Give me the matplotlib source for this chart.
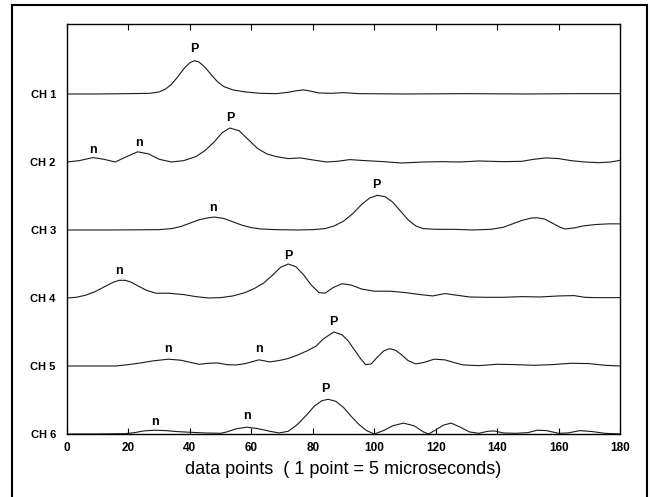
import matplotlib
matplotlib.use("Agg")
import matplotlib.pyplot as plt
from matplotlib.patches import Rectangle

plt.rcParams['font.family'] = ['Liberation Sans', 'DejaVu Sans']

# Channel traces (x in data points, y = amplitude above each channel baseline)
ch1_x = [0, 10, 20, 27, 30, 32, 34, 36, 38, 40, 41.5, 43, 45, 47, 49, 51, 54, 58, 63, 68, 72, 75, 77, 79, 82, 86, 90, 95, 110, 130, 150, 165, 180]
ch1_y = [0, 0, 0.005, 0.01, 0.03, 0.07, 0.14, 0.25, 0.37, 0.46, 0.49, 0.47, 0.39, 0.28, 0.18, 0.11, 0.06, 0.03, 0.01, 0.005, 0.025, 0.05, 0.06, 0.045, 0.015, 0.01, 0.02, 0.005, 0, 0.005, 0, 0.005, 0.005]

ch2_x = [0, 4, 8.5, 12, 15.7, 19, 23, 26.5, 30, 34, 38, 42, 45, 48, 50.5, 53, 56, 59, 62, 65, 68, 72, 76, 80, 84.5, 88, 92, 97, 103, 109, 116, 122, 128, 134, 142, 148, 152, 156, 160, 164, 168.5, 173, 177, 180]
ch2_y = [0, 0.02, 0.065, 0.04, 0.0, 0.07, 0.15, 0.12, 0.04, 0.0, 0.02, 0.08, 0.17, 0.3, 0.43, 0.5, 0.46, 0.33, 0.2, 0.12, 0.08, 0.05, 0.06, 0.03, 0.0, 0.01, 0.035, 0.02, 0.005, -0.015, 0.0, 0.005, 0.0, 0.015, 0.005, 0.01, 0.04, 0.06, 0.05, 0.02, 0.0, -0.01, 0.0, 0.025]

ch3_x = [0, 15, 30, 34, 37, 40, 43, 46, 48, 51, 54, 57, 60, 63, 68, 75, 80, 84, 87, 90, 93, 96, 98.5, 101, 103.5, 106, 108.5, 111, 113.5, 116, 120, 126, 132, 138, 142, 145, 148, 151, 153, 155.5, 158, 160.5, 162, 165, 168, 172, 176, 180]
ch3_y = [0, 0, 0.005, 0.02, 0.05, 0.1, 0.15, 0.18, 0.19, 0.17, 0.12, 0.07, 0.035, 0.015, 0.005, 0, 0.005, 0.02, 0.06, 0.13, 0.24, 0.38, 0.47, 0.51, 0.49, 0.41, 0.28, 0.15, 0.06, 0.02, 0.01, 0.01, 0.0, 0.01, 0.04, 0.09, 0.14, 0.175, 0.18, 0.16, 0.1, 0.04, 0.015, 0.03, 0.06, 0.08, 0.09, 0.09]

ch4_x = [0, 3, 6, 9, 12, 15, 17, 19, 21, 23, 26, 29, 33, 38, 42, 46, 50, 54, 58, 61, 64, 67, 69.5, 72, 74.5, 77, 79.5, 82, 84, 86.5, 89.5, 92.5, 96, 100, 105, 110, 115, 119, 123, 127, 131, 136, 142, 148, 154, 160, 165, 168.5, 172, 176, 180]
ch4_y = [0, 0.01, 0.04, 0.09, 0.16, 0.23, 0.26, 0.26, 0.23, 0.18, 0.11, 0.07, 0.07, 0.05, 0.02, 0.0, 0.005, 0.03, 0.08, 0.14, 0.22, 0.34, 0.45, 0.5, 0.46, 0.34, 0.19, 0.08, 0.07, 0.15, 0.21, 0.19, 0.13, 0.1, 0.1, 0.08, 0.05, 0.03, 0.065, 0.04, 0.015, 0.01, 0.01, 0.02, 0.015, 0.03, 0.035, 0.01, 0.005, 0.005, 0.005]

ch5_x = [0, 10, 16, 20, 24, 28, 33, 37, 40, 43, 46, 49, 52, 55, 58, 62.5, 66, 69, 72, 75, 78, 81, 83.5, 86.8, 89.5, 91.5, 93.5, 95.5, 97.2, 99, 101, 103, 105, 107, 109, 111, 113.5, 116, 119.5, 123, 126, 129, 134, 140, 146, 152, 158, 164, 170, 175, 180]
ch5_y = [0, 0, 0.0, 0.02, 0.045, 0.075, 0.1, 0.085, 0.055, 0.025, 0.04, 0.045, 0.02, 0.015, 0.035, 0.09, 0.06, 0.08, 0.11, 0.16, 0.22, 0.29, 0.4, 0.5, 0.46, 0.37, 0.24, 0.11, 0.02, 0.03, 0.13, 0.22, 0.255, 0.23, 0.16, 0.08, 0.03, 0.05, 0.1, 0.09, 0.05, 0.015, 0.005, 0.025, 0.02, 0.01, 0.02, 0.04, 0.035, 0.01, 0.0]

ch6_x = [0, 10, 19, 22, 25, 28.5, 32, 36, 40, 45, 50, 52, 55, 58.5, 62, 66, 69, 72, 75, 78, 80.5, 83, 85, 87.5, 90, 92.5, 95, 97.5, 100, 103, 106, 109.5, 113, 116, 117.7, 120, 122.5, 125, 128, 131, 134, 137, 139, 142, 146, 150, 153, 156, 160, 163, 167, 171, 175, 180]
ch6_y = [0, 0, 0.005, 0.02, 0.045, 0.055, 0.05, 0.035, 0.025, 0.015, 0.01, 0.03, 0.075, 0.1, 0.08, 0.04, 0.015, 0.04, 0.14, 0.28, 0.41, 0.49, 0.51, 0.48, 0.39, 0.26, 0.14, 0.05, 0.0, 0.05, 0.12, 0.16, 0.12, 0.03, 0.0, 0.06, 0.13, 0.16, 0.1, 0.03, 0.01, 0.04, 0.045, 0.015, 0.01, 0.02, 0.055, 0.05, 0.01, 0.015, 0.05, 0.035, 0.01, 0.0]

channel_names = ['CH 1', 'CH 2', 'CH 3', 'CH 4', 'CH 5', 'CH 6']
traces = [(ch1_x, ch1_y), (ch2_x, ch2_y), (ch3_x, ch3_y),
          (ch4_x, ch4_y), (ch5_x, ch5_y), (ch6_x, ch6_y)]

# peak markers: (channel index, x, height above baseline, text)
marks = [
    (0, 41.5, 0.66, 'P'),
    (1, 8.5, 0.18, 'n'), (1, 23.5, 0.28, 'n'), (1, 53, 0.65, 'P'),
    (2, 47.5, 0.32, 'n'), (2, 100.8, 0.66, 'P'),
    (3, 16.8, 0.40, 'n'), (3, 72, 0.62, 'P'),
    (4, 33, 0.25, 'n'), (4, 62.5, 0.25, 'n'), (4, 86.8, 0.65, 'P'),
    (5, 28.5, 0.18, 'n'), (5, 58.5, 0.26, 'n'), (5, 84, 0.66, 'P'),
]

xticks = [0, 20, 40, 60, 80, 100, 120, 140, 160, 180]

fig = plt.figure(figsize=(6.5, 4.97), dpi=100)
ax = fig.add_axes([0.103, 0.1268, 0.851, 0.825])

n = len(traces)
for i, (xs, ys) in enumerate(traces):
    base = n - 1 - i
    ax.plot(xs, [base + v for v in ys], color='#1a1a1a', lw=0.8)

for ci, x, h, t in marks:
    ax.text(x, n - 1 - ci + h, t, ha='center', va='center',
            fontsize=9, fontweight='bold')

ax.set_xlim(0, 180)
ax.set_ylim(0, 6.03)
ax.set_xticks(xticks)
ax.set_xticklabels([str(v) for v in xticks], fontsize=8.5, fontweight='bold')
ax.set_yticks(list(range(n - 1, -1, -1)))
ax.set_yticklabels(channel_names, fontsize=8, fontweight='bold')
ax.tick_params(axis='x', direction='in', length=4, top=True, pad=6)
ax.tick_params(axis='y', length=0, pad=8)
for s in ax.spines.values():
    s.set_linewidth(1.0)
ax.set_xlabel('data points  ( 1 point = 5 microseconds)', fontsize=13, labelpad=5)

# outer frame around the whole figure
fig.patches.append(Rectangle((12 / 650, -0.02), 635 / 650, 1 - 5 / 497 + 0.02,
                             transform=fig.transFigure, fill=False,
                             edgecolor='black', lw=1.5))

fig.savefig('out.png', dpi=100)
